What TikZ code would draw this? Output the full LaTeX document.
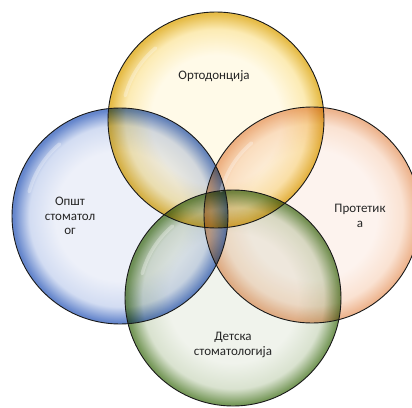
\documentclass[tikz,border=0pt]{standalone}
\usepackage{fontspec}
\setmainfont{Carlito}
\definecolor{yc}{HTML}{FFFAE8}\definecolor{ym}{HTML}{FCEBB4}\definecolor{ye}{HTML}{E6BC48}
\definecolor{bc}{HTML}{EDF0F9}\definecolor{bm}{HTML}{D2DCF2}\definecolor{be}{HTML}{6586CC}
\definecolor{pc}{HTML}{FDF3EE}\definecolor{pm}{HTML}{FAE2D2}\definecolor{pe}{HTML}{EDB48E}
\definecolor{gc}{HTML}{F0F3EC}\definecolor{gm}{HTML}{D9E2CF}\definecolor{ge}{HTML}{769859}
\definecolor{txt}{HTML}{262626}
\pgfdeclareradialshading{glassY}{\pgfpointorigin}{color(0bp)=(yc); color(15bp)=(yc); color(21bp)=(ym); color(24.6bp)=(ye); color(25bp)=(ye); color(50bp)=(ye)}
\pgfdeclareradialshading{glassB}{\pgfpointorigin}{color(0bp)=(bc); color(15bp)=(bc); color(21bp)=(bm); color(24.6bp)=(be); color(25bp)=(be); color(50bp)=(be)}
\pgfdeclareradialshading{glassP}{\pgfpointorigin}{color(0bp)=(pc); color(15bp)=(pc); color(21bp)=(pm); color(24.6bp)=(pe); color(25bp)=(pe); color(50bp)=(pe)}
\pgfdeclareradialshading{glassG}{\pgfpointorigin}{color(0bp)=(gc); color(15bp)=(gc); color(21bp)=(gm); color(24.6bp)=(ge); color(25bp)=(ge); color(50bp)=(ge)}
\tikzset{
  bubble/.style={circle, minimum size=216pt, inner sep=0pt, shade, shading=#1},
  rim/.style={circle, minimum size=216pt, inner sep=0pt, draw=black!90, line width=0.9pt},
  gloss/.style={draw=white, line width=3.5pt, line cap=round, opacity=0.3},
  lbl/.style={text=txt, font=\fontsize{13}{14.5}\selectfont, align=center, inner sep=0pt}
}
\begin{document}
\begin{tikzpicture}[x=1pt,y=-1pt]
\useasboundingbox (0,0) rectangle (412,407);
\begin{scope}[blend mode=multiply]
  \node[bubble=glassY] (top) at (216,120) {};
  \node[bubble=glassB] (left) at (120,216) {};
  \node[bubble=glassP] (right) at (312,215) {};
  \node[bubble=glassG] (bottom) at (233,298) {};
\end{scope}
\foreach \c in {top,left,right,bottom}{
  \draw[gloss] (\c.center) ++(195:94) arc[start angle=195, end angle=230, radius=94];
}
\node[rim] (topr) at (top.center) {};
\node[rim] (leftr) at (left.center) {};
\node[rim] (rightr) at (right.center) {};
\node[rim] (bottomr) at (bottom.center) {};
\node[lbl] (t1) at (214,76) {Ортодонција};
\node[lbl] (t2) at (70,216) {Општ\\стоматол\\ог};
\node[lbl] (t3) at (360,216) {Протетик\\а};
\node[lbl] (t4) at (233,345) {Детска\\стоматологија};
\end{tikzpicture}
\end{document}
